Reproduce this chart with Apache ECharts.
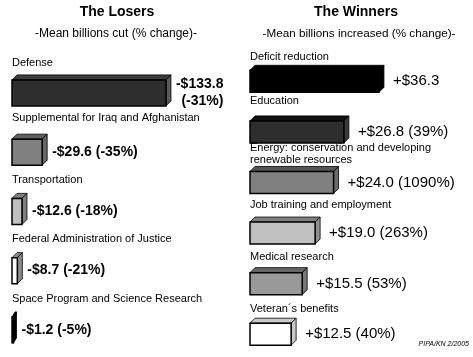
<!DOCTYPE html>
<html><head><meta charset="utf-8">
<script src="https://cdn.jsdelivr.net/npm/echarts@6/dist/echarts.min.js"></script>
<style>html,body{margin:0;padding:0;background:#fff}#c{width:473px;height:357px}</style>
</head><body><div id="c"></div>
<script>
// ---- data ----
const loserCategories = ['Defense', 'Supplemental for Iraq and Afghanistan', 'Transportation', 'Federal Administration of Justice', 'Space Program and Science Research'];
const loserValues = [133.8, 29.6, 12.6, 8.7, 1.2];
const loserLabels = ['-$133.8\n(-31%)', '-$29.6 (-35%)', '-$12.6 (-18%)', '-$8.7 (-21%)', '-$1.2 (-5%)'];

const winnerCategories = ['Deficit reduction', 'Education', 'Energy: conservation and developing\nrenewable resources', 'Job training and employment', 'Medical research', 'Veteran\u00b4s benefits'];
const winnerValues = [36.3, 26.8, 24.0, 19.0, 15.5, 12.5];
const winnerLabels = ['+$36.3', '+$26.8 (39%)', '+$24.0 (1090%)', '+$19.0 (263%)', '+$15.5 (53%)', '+$12.5 (40%)'];

// ---- styles (front, top, side) ----
const loserStyles = [
  ['#2e2e2e', '#3c3c3c', '#5a5a5a'],
  ['#808080', '#5e5e5e', '#666666'],
  ['#c0c0c0', '#808080', '#808080'],
  ['#ffffff', '#8a8a8a', '#8a8a8a'],
  ['#000000', '#000000', '#000000']
];
const winnerStyles = [
  ['#000000', '#000000', '#000000'],
  ['#2e2e2e', '#111111', '#3a3a3a'],
  ['#808080', '#555555', '#6a6a6a'],
  ['#c0c0c0', '#808080', '#909090'],
  ['#999999', '#666666', '#777777'],
  ['#ffffff', '#c8c8c8', '#c8c8c8']
];
// distance from bar top to the centre of the (last line of the) category label
const loserLabelGap = [12, 16, 13, 14, 13];
const winnerLabelGap = [8, 15, 6, 12, 11, 9];

const FONT = "'Liberation Sans', Arial, Helvetica, sans-serif";

function makeRender(cats, labels, styles, gaps, opt) {
  return function (params, api) {
    const i = api.value(1), v = api.value(0);
    const p0 = api.coord([0, i]), p1 = api.coord([v, i]);
    const H = opt.h, d = opt.d;
    const x0 = p0[0], cy = p0[1], L = p1[0] - x0;
    const dd = Math.min(d, Math.max(L, 3));
    const fw = Math.max(L - dd, 1.5);
    const T = cy - H / 2;
    const fx0 = x0, fx1 = x0 + fw, fy0 = T + d, fy1 = T + H;
    const st = styles[i];
    const lines = labels[i].split('\n');
    const rich = lines.map(function (l) { return '{a|' + l + '}'; }).join('\n');
    return {
      type: 'group',
      children: [
        { type: 'polygon', shape: { points: [[fx0, fy0], [fx0 + dd, T], [fx1 + dd, T], [fx1, fy0]] },
          style: { fill: st[1], stroke: '#000', lineWidth: 0.8 } },
        { type: 'polygon', shape: { points: [[fx1, fy0], [fx1 + dd, T], [fx1 + dd, fy1 - d], [fx1, fy1]] },
          style: { fill: st[2], stroke: '#000', lineWidth: 0.8 } },
        { type: 'rect', shape: { x: fx0, y: fy0, width: fw, height: fy1 - fy0 },
          style: { fill: st[0], stroke: '#000', lineWidth: 1.5 } },
        { type: 'text', x: x0, y: T - gaps[i] + 6,
          style: { text: cats[i], font: '11px ' + FONT, fill: '#000', textAlign: 'left', textVerticalAlign: 'bottom', lineHeight: 12 } },
        { type: 'text', x: fx1 + dd + opt.gap, y: (fy0 + fy1) / 2,
          style: { text: rich, textAlign: 'left', textVerticalAlign: 'middle',
            rich: { a: { align: 'right', font: opt.valFont, fill: '#000', lineHeight: opt.valLH } } } }
      ]
    };
  };
}

const chart = echarts.init(document.getElementById('c'), null, { renderer: 'canvas' });
chart.setOption({
  animation: false,
  backgroundColor: '#fff',
  grid: [
    { left: 12, top: 60.75, width: 140 * 1.188, height: 297.5 },
    { left: 250, top: 53.5, width: 40 * 3.69, height: 312 }
  ],
  xAxis: [
    { gridIndex: 0, type: 'value', min: 0, max: 140, show: false },
    { gridIndex: 1, type: 'value', min: 0, max: 40, show: false }
  ],
  yAxis: [
    { gridIndex: 0, type: 'value', min: -0.5, max: 4.5, inverse: true, show: false },
    { gridIndex: 1, type: 'value', min: -0.5, max: 5.5, inverse: true, show: false }
  ],
  graphic: [
    { type: 'text', x: 117, y: 12, style: { text: 'The Losers', font: 'bold 14px ' + FONT, fill: '#000', textAlign: 'center', textVerticalAlign: 'middle' } },
    { type: 'text', x: 116, y: 34, style: { text: '-Mean billions cut (% change)-', font: '12px ' + FONT, fill: '#000', textAlign: 'center', textVerticalAlign: 'middle' } },
    { type: 'text', x: 356, y: 12, style: { text: 'The Winners', font: 'bold 14px ' + FONT, fill: '#000', textAlign: 'center', textVerticalAlign: 'middle' } },
    { type: 'text', x: 359, y: 34, style: { text: '-Mean billions increased (% change)-', font: '11.7px ' + FONT, fill: '#000', textAlign: 'center', textVerticalAlign: 'middle' } },
    { type: 'text', x: 469, y: 344, style: { text: 'PIPA/KN 2/2005', font: 'italic 7px ' + FONT, fill: '#000', textAlign: 'right', textVerticalAlign: 'middle' } }
  ],
  series: [
    { type: 'custom', xAxisIndex: 0, yAxisIndex: 0, clip: false,
      data: loserValues.map(function (v, i) { return [v, i]; }),
      renderItem: makeRender(loserCategories, loserLabels, loserStyles, loserLabelGap,
        { h: 31, d: 5, gap: 5, valFont: 'bold 14px ' + FONT, valLH: 17 }) },
    { type: 'custom', xAxisIndex: 1, yAxisIndex: 1, clip: false,
      data: winnerValues.map(function (v, i) { return [v, i]; }),
      renderItem: makeRender(winnerCategories, winnerLabels, winnerStyles, winnerLabelGap,
        { h: 27, d: 5, gap: 9, valFont: '15px ' + FONT, valLH: 17 }) }
  ]
});
</script></body></html>
